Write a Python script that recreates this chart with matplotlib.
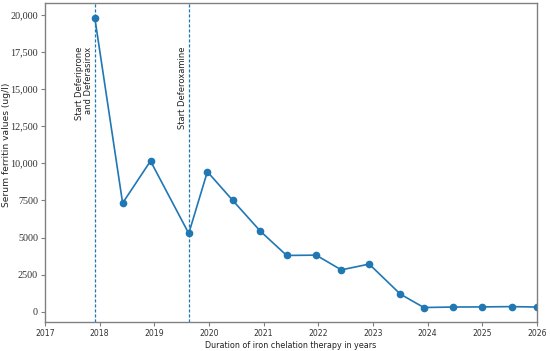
import matplotlib
matplotlib.use("Agg")
import matplotlib.pyplot as plt

years = [2017.91, 2018.42, 2018.93, 2019.63, 2019.97, 2020.43, 2020.94, 2021.42,
         2021.96, 2022.42, 2022.93, 2023.50, 2023.93, 2024.46, 2024.99, 2025.54, 2026.0]
ferritin = [19800, 7320, 10150, 5280, 9430, 7520, 5430, 3800,
            3820, 2830, 3220, 1200, 300, 330, 340, 360, 330]
event_years = [2017.91, 2019.63]
event_labels = ["Start Deferiprone\nand Deferasirox", "Start Deferoxamine"]
xticks = [2017, 2018, 2019, 2020, 2021, 2022, 2023, 2024, 2025, 2026]
yticks = [0, 2500, 5000, 7500, 10000, 12500, 15000, 17500, 20000]
ytick_labels = ["0", "2500", "5000", "7500", "10,000", "12,500", "15,000", "17,500", "20,000"]

color = "#1f77b4"
fig = plt.figure(figsize=(5.5, 3.51), dpi=100)
ax = fig.add_axes([45/550, 29/351, 492/550, 319/351])

ax.plot(years, ferritin, "-o", color=color, lw=1.2, ms=4.5)
for ex, lab in zip(event_years, event_labels):
    ax.axvline(ex, color=color, lw=0.9, ls=(0, (2.5, 1.5)))
    ax.text(ex - 0.04, 17850, lab, rotation=90, ha="right", va="top",
            fontsize=6.0, color="#222222", linespacing=1.0)

ax.set_xlim(2017, 2026)
ax.set_xticks(xticks)
ax.set_xticklabels([str(t) for t in xticks], fontsize=5.6, color="#333333")
ax.set_yticks(yticks)
ax.set_yticklabels(ytick_labels, fontsize=7.3, family="Liberation Serif", color="#333333")
ax.set_ylim(-675, 20775)

ax.set_xlabel("Duration of iron chelation therapy in years", fontsize=5.8, labelpad=2, color="#222222")
ax.set_ylabel("Serum ferritin values (ug/l)", fontsize=6.6, color="#222222")
ax.yaxis.set_label_coords(-0.069, 0.555)

for s in ax.spines.values():
    s.set_color("#808080")
    s.set_linewidth(1.0)
ax.tick_params(length=3, width=0.8, color="#808080", pad=2)

fig.savefig("out.png", dpi=100)
